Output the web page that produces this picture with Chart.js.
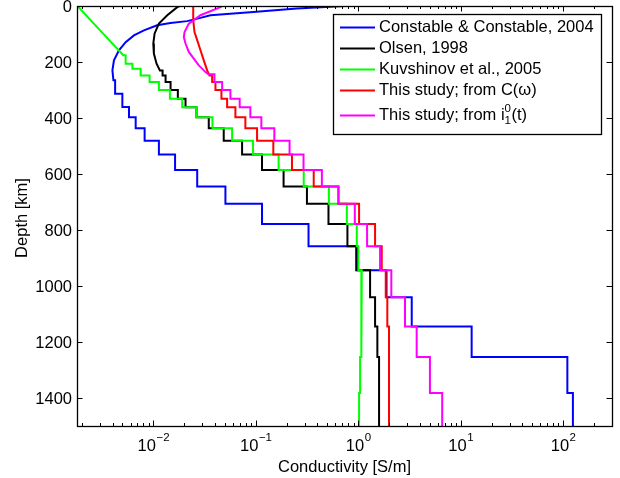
<!DOCTYPE html>
<html>
<head>
<meta charset="utf-8">
<script src="https://cdn.jsdelivr.net/npm/chart.js@4.4.1/dist/chart.umd.min.js"></script>
<style>
  html, body { margin: 0; padding: 0; background: #fff; }
  canvas { display: block; }
</style>
</head>
<body>
<canvas id="chart" width="620" height="478"></canvas>
<script>
// Axis ranges and ticks
const xRange = [0.0018, 300];
const yRange = [0, 1500];
const xTicks = [0.01, 0.1, 1, 10, 100];
const xTickExp = ['\u22122', '\u22121', '0', '1', '2'];
const yTicks = [0, 200, 400, 600, 800, 1000, 1200, 1400];

// Constable & Constable, 2004 (smooth top, then layers)
const ccTopDepth = [0, 1, 9, 21, 33, 45, 54, 61, 69, 87, 105, 129, 158, 194, 230, 265];
const ccTopSigma = [0.745, 0.666, 0.252, 0.0947, 0.0361, 0.027, 0.0214, 0.0147, 0.0109, 0.0081, 0.00647, 0.00537, 0.00462, 0.00413, 0.00399, 0.00408];
const ccBounds = [265, 313, 361, 397, 437, 481, 530, 586, 645, 706, 779, 858, 944, 1040, 1145, 1254, 1382, 1500];
const ccSigma = [0.00424, 0.00499, 0.00579, 0.00673, 0.00823, 0.01134, 0.01631, 0.02682, 0.05058, 0.1151, 0.3274, 0.954, 1.89, 3.33, 12.8, 110, 124.6];

// Olsen, 1998
const olTopDepth = [0, 4, 33, 63, 98, 134, 170, 206, 230];
const olTopSigma = [0.01804, 0.01713, 0.01369, 0.01134, 0.0103, 0.01, 0.01013, 0.01076, 0.0116];
const olBounds = [230, 248, 271, 300, 331, 362, 397, 437, 481, 530, 586, 645, 706, 779, 858, 944, 1040, 1145, 1254, 1500];
const olSigma = [0.01232, 0.01318, 0.01474, 0.01736, 0.02063, 0.0264, 0.03478, 0.04868, 0.07355, 0.1151, 0.1869, 0.3159, 0.5127, 0.7847, 0.9757, 1.306, 1.461, 1.538, 1.598];

// Kuvshinov et al., 2005
const kuTopDepth = [0, 88, 176];
const kuTopSigma = [0.00182, 0.00304, 0.00509];
const kuBounds = [176, 206, 224, 248, 271, 300, 331, 362, 397, 437, 481, 530, 586, 645, 706, 779, 858, 944, 1145, 1254, 1382, 1500];
const kuSigma = [0.00537, 0.00625, 0.00752, 0.0092, 0.01134, 0.01451, 0.01916, 0.0264, 0.03779, 0.05876, 0.0941, 0.1671, 0.2939, 0.5173, 0.7745, 0.969, 1.004, 1.084, 1.067, 1.043, 1.02];

// This study; from C(w)
const rdTopDepth = [0, 50, 93, 122, 158, 194, 230, 248];
const rdTopSigma = [0.02452, 0.02452, 0.02524, 0.02682, 0.02887, 0.0311, 0.03356, 0.03533];
const rdBounds = [248, 271, 300, 331, 362, 397, 437, 481, 530, 586, 645, 706, 779, 858, 944, 1040, 1145, 1500];
const rdSigma = [0.03754, 0.04043, 0.04624, 0.05254, 0.06329, 0.07918, 0.103, 0.1484, 0.2257, 0.3679, 0.6415, 1.02, 1.461, 1.697, 1.857, 1.924, 1.999];

// This study; from i(t)
const mgTopDepth = [0, 4, 33, 63, 93, 111, 134, 164, 188, 212, 236, 244];
const mgTopSigma = [0.04729, 0.04521, 0.02887, 0.02221, 0.02018, 0.01986, 0.02063, 0.02221, 0.02485, 0.0278, 0.0323, 0.03455];
const mgBounds = [244, 271, 300, 331, 362, 397, 437, 481, 530, 586, 645, 706, 779, 858, 944, 1040, 1145, 1254, 1382, 1500];
const mgSigma = [0.03953, 0.04697, 0.05659, 0.0697, 0.08858, 0.1134, 0.1518, 0.2138, 0.2926, 0.442, 0.6415, 0.9266, 1.221, 1.634, 2.105, 2.862, 3.721, 5.013, 6.604];

const FONT = '"Liberation Sans", Arial, Helvetica, sans-serif';
const BIG = '16.5px ' + FONT;
const SMALL = '11.5px ' + FONT;

// smooth part as given, then each layer as a vertical run between its bounds
function profile(topDepth, topSigma, bounds, sigma) {
    const pts = topDepth.map((d, i) => ({ x: topSigma[i], y: d }));
    sigma.forEach((s, i) => {
        pts.push({ x: s, y: bounds[i] });
        pts.push({ x: s, y: bounds[i + 1] });
    });
    return pts;
}

const series = [
    { label: 'Constable & Constable, 2004', color: '#0000ff', data: profile(ccTopDepth, ccTopSigma, ccBounds, ccSigma) },
    { label: 'Olsen, 1998', color: '#000000', data: profile(olTopDepth, olTopSigma, olBounds, olSigma) },
    { label: 'Kuvshinov et al., 2005', color: '#00ff00', data: profile(kuTopDepth, kuTopSigma, kuBounds, kuSigma) },
    { label: 'This study; from C(\u03c9)', color: '#ff0000', data: profile(rdTopDepth, rdTopSigma, rdBounds, rdSigma) },
    { label: 'This study; from i(t)', color: '#ff00ff', data: profile(mgTopDepth, mgTopSigma, mgBounds, mgSigma) }
];

const frame = {
    id: 'frame',
    afterDatasetsDraw(chart) {
        const { ctx, chartArea: a, scales: { x, y } } = chart;
        ctx.save();

        // legend box
        const lx = 333, ly = 14, lw = 268, lh = 120;
        ctx.fillStyle = '#fff';
        ctx.fillRect(lx, ly, lw, lh);
        ctx.strokeStyle = '#000';
        ctx.lineWidth = 1.3;
        ctx.strokeRect(lx + 0.5, ly + 0.5, lw, lh);
        const rows = [27.5, 48.5, 69.5, 90.5, 115.5];
        ctx.font = BIG;
        ctx.textBaseline = 'middle';
        ctx.textAlign = 'left';
        series.forEach((s, i) => {
            const ry = rows[i];
            ctx.strokeStyle = s.color;
            ctx.lineWidth = 2;
            ctx.beginPath();
            ctx.moveTo(340, ry);
            ctx.lineTo(375, ry);
            ctx.stroke();
            ctx.fillStyle = '#000';
            if (i < 4) {
                ctx.fillText(s.label, 379, ry);
            } else {
                const head = 'This study; from i';
                ctx.fillText(head, 379, ry);
                let tx = 379 + ctx.measureText(head).width;
                ctx.font = SMALL;
                ctx.fillText('0', tx, ry - 7);
                ctx.fillText('1', tx, ry + 5);
                tx += ctx.measureText('0').width + 0.5;
                ctx.font = BIG;
                ctx.fillText('(t)', tx, ry);
            }
        });

        // axes box
        ctx.strokeStyle = '#000';
        ctx.lineWidth = 1.3;
        ctx.strokeRect(a.left + 0.5, a.top + 0.5, a.right - a.left, a.bottom - a.top);

        // y ticks and labels
        ctx.lineWidth = 1;
        ctx.fillStyle = '#000';
        ctx.font = BIG;
        ctx.textAlign = 'right';
        ctx.textBaseline = 'middle';
        yTicks.forEach(v => {
            const py = Math.round(y.getPixelForValue(v)) + 0.5;
            ctx.beginPath();
            ctx.moveTo(a.left, py); ctx.lineTo(a.left + 5.5, py);
            ctx.moveTo(a.right, py); ctx.lineTo(a.right - 5.5, py);
            ctx.stroke();
            ctx.fillText(String(v), a.left - 5, py + 1);
        });

        // x ticks: majors and log minors, top and bottom
        const drawXTick = (v, len) => {
            const px = Math.round(x.getPixelForValue(v)) + 0.5;
            ctx.beginPath();
            ctx.moveTo(px, a.bottom); ctx.lineTo(px, a.bottom - len);
            ctx.moveTo(px, a.top); ctx.lineTo(px, a.top + len);
            ctx.stroke();
        };
        for (let k = -3; k <= 2; k++) {
            for (let m = 2; m <= 9; m++) {
                const v = m * Math.pow(10, k);
                if (v > xRange[0] && v < xRange[1]) drawXTick(v, 3);
            }
        }
        xTicks.forEach((v, i) => {
            drawXTick(v, 5.5);
            const px = x.getPixelForValue(v);
            ctx.font = BIG;
            const w10 = ctx.measureText('10').width;
            ctx.font = SMALL;
            const we = ctx.measureText(xTickExp[i]).width;
            const x0 = px - (w10 + we) / 2;
            ctx.textAlign = 'left';
            ctx.textBaseline = 'alphabetic';
            ctx.font = BIG;
            ctx.fillText('10', x0, 451);
            ctx.font = SMALL;
            ctx.fillText(xTickExp[i], x0 + w10 + 0.5, 441);
        });

        // axis titles
        ctx.font = BIG;
        ctx.textAlign = 'center';
        ctx.textBaseline = 'alphabetic';
        ctx.fillText('Conductivity [S/m]', (a.left + a.right) / 2, 472);
        ctx.translate(27, 218);
        ctx.rotate(-Math.PI / 2);
        ctx.fillText('Depth [km]', 0, 0);

        ctx.restore();
    }
};

new Chart(document.getElementById('chart'), {
    type: 'scatter',
    data: {
        datasets: series.map((s, i) => ({
            label: s.label,
            data: s.data,
            showLine: true,
            borderColor: s.color,
            backgroundColor: s.color,
            borderWidth: 2,
            pointRadius: 0,
            tension: 0,
            fill: false,
            order: series.length - i
        }))
    },
    options: {
        responsive: false,
        animation: false,
        devicePixelRatio: 1,
        layout: { padding: { left: 77, right: 8, top: 6, bottom: 52 } },
        plugins: {
            legend: { display: false },
            tooltip: { enabled: false }
        },
        scales: {
            x: { type: 'logarithmic', min: xRange[0], max: xRange[1], display: false },
            y: { type: 'linear', reverse: true, min: yRange[0], max: yRange[1], display: false }
        }
    },
    plugins: [frame]
});
</script>
</body>
</html>
